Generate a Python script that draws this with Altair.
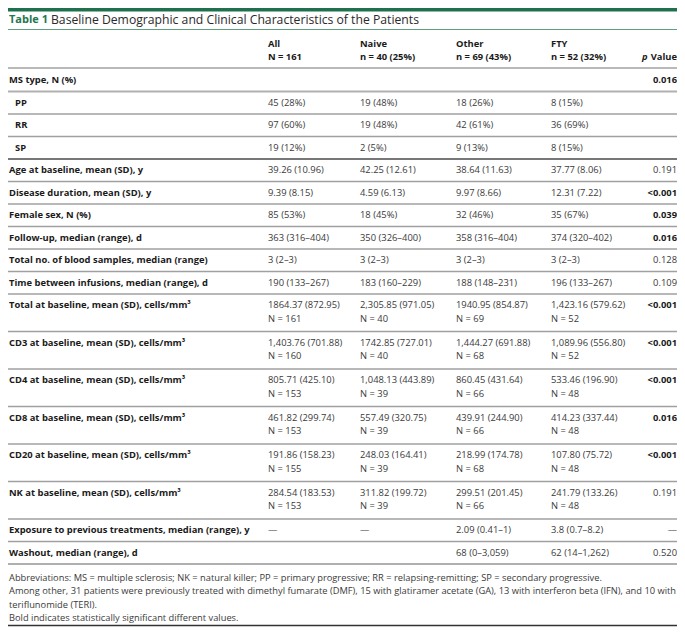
import altair as alt
import pandas as pd

# ---------------- data ----------------
title_bold = "Table 1"
title_rest = "Baseline Demographic and Clinical Characteristics of the Patients"

col_names = ["All", "Naive", "Other", "FTY"]
col_n = ["N = 161", "n = 40 (25%)", "n = 69 (43%)", "n = 52 (32%)"]

labels = [
    "MS type, N (%)", "PP", "RR", "SP",
    "Age at baseline, mean (SD), y",
    "Disease duration, mean (SD), y",
    "Female sex, N (%)",
    "Follow-up, median (range), d",
    "Total no. of blood samples, median (range)",
    "Time between infusions, median (range), d",
    "Total at baseline, mean (SD), cells/mm³",
    "CD3 at baseline, mean (SD), cells/mm³",
    "CD4 at baseline, mean (SD), cells/mm³",
    "CD8 at baseline, mean (SD), cells/mm³",
    "CD20 at baseline, mean (SD), cells/mm³",
    "NK at baseline, mean (SD), cells/mm³",
    "Exposure to previous treatments, median (range), y",
    "Washout, median (range), d",
]
indent = [False, True, True, True] + [False] * 14

all_vals = ["", "45 (28%)", "97 (60%)", "19 (12%)", "39.26 (10.96)", "9.39 (8.15)",
            "85 (53%)", "363 (316–404)", "3 (2–3)", "190 (133–267)",
            "1864.37 (872.95)", "1,403.76 (701.88)", "805.71 (425.10)",
            "461.82 (299.74)", "191.86 (158.23)", "284.54 (183.53)", "—", ""]
all_n = [""] * 10 + ["N = 161", "N = 160", "N = 153", "N = 153", "N = 155", "N = 153", "", ""]

naive_vals = ["", "19 (48%)", "19 (48%)", "2 (5%)", "42.25 (12.61)", "4.59 (6.13)",
              "18 (45%)", "350 (326–400)", "3 (2–3)", "183 (160–229)",
              "2,305.85 (971.05)", "1742.85 (727.01)", "1,048.13 (443.89)",
              "557.49 (320.75)", "248.03 (164.41)", "311.82 (199.72)", "—", ""]
naive_n = [""] * 10 + ["N = 40", "N = 40", "N = 39", "N = 39", "N = 39", "N = 39", "", ""]

other_vals = ["", "18 (26%)", "42 (61%)", "9 (13%)", "38.64 (11.63)", "9.97 (8.66)",
              "32 (46%)", "358 (316–404)", "3 (2–3)", "188 (148–231)",
              "1940.95 (854.87)", "1,444.27 (691.88)", "860.45 (431.64)",
              "439.91 (244.90)", "218.99 (174.78)", "299.51 (201.45)",
              "2.09 (0.41–1)", "68 (0–3,059)"]
other_n = [""] * 10 + ["N = 69", "N = 68", "N = 66", "N = 66", "N = 68", "N = 66", "", ""]

fty_vals = ["", "8 (15%)", "36 (69%)", "8 (15%)", "37.77 (8.06)", "12.31 (7.22)",
            "35 (67%)", "374 (320–402)", "3 (2–3)", "196 (133–267)",
            "1,423.16 (579.62)", "1,089.96 (556.80)", "533.46 (196.90)",
            "414.23 (337.44)", "107.80 (75.72)", "241.79 (133.26)",
            "3.8 (0.7–8.2)", "62 (14–1,262)"]
fty_n = [""] * 10 + ["N = 52", "N = 52", "N = 48", "N = 48", "N = 48", "N = 48", "", ""]

p_vals = ["0.016", "", "", "", "0.191", "<0.001", "0.039", "0.016", "0.128", "0.109",
          "<0.001", "<0.001", "<0.001", "0.016", "<0.001", "0.191", "—", "0.520"]
p_bold = [True, False, False, False, False, True, True, True, False, False,
          True, True, True, True, True, False, False, False]

footnotes = [
    "Abbreviations: MS = multiple sclerosis; NK = natural killer; PP = primary progressive; RR = relapsing-remitting; SP = secondary progressive.",
    "Among other, 31 patients were previously treated with dimethyl fumarate (DMF), 15 with glatiramer acetate (GA), 13 with interferon beta (IFN), and 10 with",
    "teriflunomide (TERI).",
    "Bold indicates statistically significant different values.",
]

# ---------------- layout (page pixel frame; plot area spans 8..677 x 8..627) ----------------
X0, X1 = 8, 677
Y0, Y1 = 8, 627
W, H = X1 - X0, Y1 - Y0
LABEL_X, INDENT_X = 9, 15
COL_X = [268, 360, 456, 551]
P_RIGHT = 677
BODY = 9.4
H1, H2 = 22.5, 37.5

texts = []   # x, y, text, style
rules = []   # x, x2, y, color, size


def add(x, y, t, style):
    if t:
        texts.append(dict(x=x, y=y, text=t, style=style))


# title
add(9, 20, title_bold, "title_bold")
add(51, 20, title_rest, "title")
rules.append(dict(x=X0, x2=X1, y=9.5, color="#21704d", size=4))
rules.append(dict(x=X0, x2=X1, y=29.5, color="#5f9f7e", size=1))

# header
for cx, nm, nn in zip(COL_X, col_names, col_n):
    add(cx, 44, nm, "bold")
    add(cx, 57, nn, "bold")
add(P_RIGHT - 29.5, 57, "p", "bold_italic_r")
add(P_RIGHT, 57, "Value", "bold_r")
rules.append(dict(x=X0, x2=X1, y=68, color="#b9b9b9", size=2))

top = 69
for i, lab in enumerate(labels):
    double = all_n[i] != "" or naive_n[i] != ""
    h = H2 if double else H1
    y1 = top + 11.2
    y2 = y1 + 13.5
    add(INDENT_X if indent[i] else LABEL_X, y1, lab, "bold")
    for cx, v, n in zip(COL_X, [all_vals[i], naive_vals[i], other_vals[i], fty_vals[i]],
                        [all_n[i], naive_n[i], other_n[i], fty_n[i]]):
        add(cx, y1, v, "reg")
        add(cx, y2, n, "reg")
    add(P_RIGHT, y1, p_vals[i], "bold_r" if p_bold[i] else "reg_r")
    top += h
    if i == 3:
        col, sz = "#4a4a4a", 1.5
    elif i == 0 or i == len(labels) - 1:
        col, sz = "#b0b0b0", 2
    else:
        col, sz = "#a0a0a0", 1.5
    rules.append(dict(x=X0, x2=X1, y=top, color=col, size=sz))

fy = 578
for f in footnotes:
    add(9, fy, f, "foot")
    fy += 13.4
rules.append(dict(x=X0, x2=X1, y=625.5, color="#333333", size=1.5))

tdf = pd.DataFrame(texts)
rdf = pd.DataFrame(rules)

xs = alt.Scale(domain=[X0, X1], range=[0, W])
ys = alt.Scale(domain=[Y0, Y1], range=[0, H])

base = alt.Chart(tdf).encode(
    x=alt.X("x:Q", scale=xs, axis=None),
    y=alt.Y("y:Q", scale=ys, axis=None),
    text="text:N",
)

FONT = "Open Sans"


def layer(style, **kw):
    opts = dict(font=FONT, baseline="middle", align="left", fontSize=BODY, color="#1a1a1a")
    opts.update(kw)
    return base.transform_filter(alt.datum.style == style).mark_text(**opts)


layers = [
    alt.Chart(rdf).mark_rule().encode(
        x=alt.X("x:Q", scale=xs, axis=None),
        x2="x2:Q",
        y=alt.Y("y:Q", scale=ys, axis=None),
        color=alt.Color("color:N", scale=None),
        size=alt.Size("size:Q", scale=None),
    ),
    layer("title_bold", fontSize=11, fontWeight="bold", color="#23784f"),
    layer("title", fontSize=12.2, color="#2a2a2a"),
    layer("bold", fontWeight="bold", color="#1a1a1a"),
    layer("bold_r", fontWeight="bold", align="right"),
    layer("bold_italic_r", fontWeight="bold", fontStyle="italic", align="right"),
    layer("reg", color="#3a3a3a"),
    layer("reg_r", color="#3a3a3a", align="right"),
    layer("foot", fontSize=9.3, color="#3a3a3a"),
]

chart = alt.layer(*layers).properties(
    width=W, height=H,
    autosize=alt.AutoSizeParams(type="none"),
    padding=0,
).configure_view(stroke=None)

chart.save("out.html", embed_options={"renderer": "svg", "actions": False})
